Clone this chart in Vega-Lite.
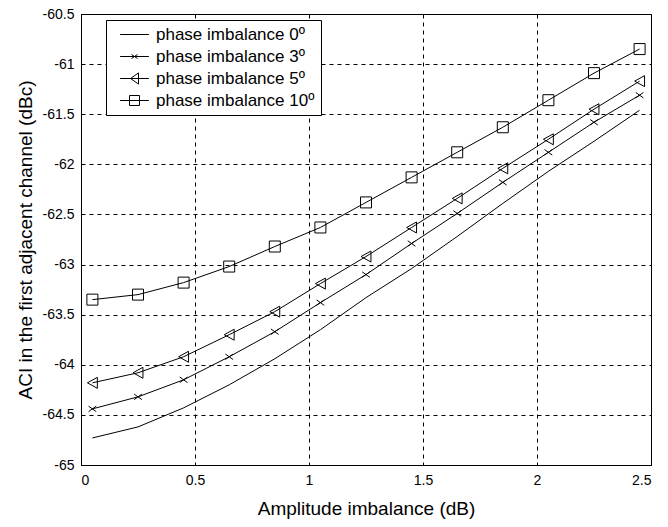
{
  "$schema": "https://vega.github.io/schema/vega-lite/v6.json",
  "width": 570,
  "height": 451,
  "autosize": {"type": "none"},
  "padding": {"left": 81, "top": 14, "right": 17, "bottom": 62},
  "background": "white",
  "config": {
    "font": "Liberation Sans",
    "view": {"stroke": "black", "strokeWidth": 1},
    "axis": {
      "domainColor": "black",
      "gridColor": "black",
      "gridDash": [4, 4],
      "gridOpacity": 1,
      "gridWidth": 1,
      "labelColor": "black",
      "labelFont": "Liberation Sans",
      "labelFontSize": 14,
      "titleFont": "Liberation Sans",
      "titleFontSize": 19,
      "titleFontWeight": "normal",
      "titleColor": "black",
      "tickColor": "black",
      "ticks": false,
      "labelPadding": 7
    },
    "legend": {
      "labelFont": "Liberation Sans",
      "labelFontSize": 17,
      "labelColor": "black"
    }
  },
  "data": {
    "values": [
      {"x": 0.05, "y": -64.73, "s": "phase imbalance 0º"},
      {"x": 0.25, "y": -64.62, "s": "phase imbalance 0º"},
      {"x": 0.45, "y": -64.43, "s": "phase imbalance 0º"},
      {"x": 0.65, "y": -64.2, "s": "phase imbalance 0º"},
      {"x": 0.85, "y": -63.94, "s": "phase imbalance 0º"},
      {"x": 1.05, "y": -63.65, "s": "phase imbalance 0º"},
      {"x": 1.25, "y": -63.33, "s": "phase imbalance 0º"},
      {"x": 1.45, "y": -63.04, "s": "phase imbalance 0º"},
      {"x": 1.65, "y": -62.72, "s": "phase imbalance 0º"},
      {"x": 1.85, "y": -62.39, "s": "phase imbalance 0º"},
      {"x": 2.05, "y": -62.07, "s": "phase imbalance 0º"},
      {"x": 2.25, "y": -61.77, "s": "phase imbalance 0º"},
      {"x": 2.45, "y": -61.46, "s": "phase imbalance 0º"},
      {"x": 0.05, "y": -64.44, "s": "phase imbalance 3º"},
      {"x": 0.25, "y": -64.32, "s": "phase imbalance 3º"},
      {"x": 0.45, "y": -64.15, "s": "phase imbalance 3º"},
      {"x": 0.65, "y": -63.92, "s": "phase imbalance 3º"},
      {"x": 0.85, "y": -63.67, "s": "phase imbalance 3º"},
      {"x": 1.05, "y": -63.38, "s": "phase imbalance 3º"},
      {"x": 1.25, "y": -63.1, "s": "phase imbalance 3º"},
      {"x": 1.45, "y": -62.79, "s": "phase imbalance 3º"},
      {"x": 1.65, "y": -62.49, "s": "phase imbalance 3º"},
      {"x": 1.85, "y": -62.18, "s": "phase imbalance 3º"},
      {"x": 2.05, "y": -61.88, "s": "phase imbalance 3º"},
      {"x": 2.25, "y": -61.58, "s": "phase imbalance 3º"},
      {"x": 2.45, "y": -61.31, "s": "phase imbalance 3º"},
      {"x": 0.05, "y": -64.18, "s": "phase imbalance 5º"},
      {"x": 0.25, "y": -64.08, "s": "phase imbalance 5º"},
      {"x": 0.45, "y": -63.92, "s": "phase imbalance 5º"},
      {"x": 0.65, "y": -63.7, "s": "phase imbalance 5º"},
      {"x": 0.85, "y": -63.47, "s": "phase imbalance 5º"},
      {"x": 1.05, "y": -63.19, "s": "phase imbalance 5º"},
      {"x": 1.25, "y": -62.92, "s": "phase imbalance 5º"},
      {"x": 1.45, "y": -62.63, "s": "phase imbalance 5º"},
      {"x": 1.65, "y": -62.34, "s": "phase imbalance 5º"},
      {"x": 1.85, "y": -62.04, "s": "phase imbalance 5º"},
      {"x": 2.05, "y": -61.75, "s": "phase imbalance 5º"},
      {"x": 2.25, "y": -61.45, "s": "phase imbalance 5º"},
      {"x": 2.45, "y": -61.17, "s": "phase imbalance 5º"},
      {"x": 0.05, "y": -63.35, "s": "phase imbalance 10º"},
      {"x": 0.25, "y": -63.3, "s": "phase imbalance 10º"},
      {"x": 0.45, "y": -63.18, "s": "phase imbalance 10º"},
      {"x": 0.65, "y": -63.02, "s": "phase imbalance 10º"},
      {"x": 0.85, "y": -62.82, "s": "phase imbalance 10º"},
      {"x": 1.05, "y": -62.63, "s": "phase imbalance 10º"},
      {"x": 1.25, "y": -62.38, "s": "phase imbalance 10º"},
      {"x": 1.45, "y": -62.13, "s": "phase imbalance 10º"},
      {"x": 1.65, "y": -61.88, "s": "phase imbalance 10º"},
      {"x": 1.85, "y": -61.63, "s": "phase imbalance 10º"},
      {"x": 2.05, "y": -61.36, "s": "phase imbalance 10º"},
      {"x": 2.25, "y": -61.09, "s": "phase imbalance 10º"},
      {"x": 2.45, "y": -60.85, "s": "phase imbalance 10º"}
    ]
  },
  "encoding": {
    "x": {
      "field": "x",
      "type": "quantitative",
      "scale": {"domain": [0, 2.5], "nice": false, "zero": false},
      "axis": {
        "values": [0, 0.5, 1, 1.5, 2, 2.5],
        "labelExpr": "'' + datum.value",
        "title": "Amplitude imbalance (dB)",
        "titlePadding": 12,
        "labelPadding": 8
      }
    },
    "y": {
      "field": "y",
      "type": "quantitative",
      "scale": {"domain": [-65, -60.5], "nice": false, "zero": false},
      "axis": {
        "values": [-65, -64.5, -64, -63.5, -63, -62.5, -62, -61.5, -61, -60.5],
        "labelExpr": "'' + datum.value",
        "title": "ACI in the first adjacent channel (dBc)",
        "titlePadding": 7,
        "labelPadding": 7
      }
    }
  },
  "layer": [
    {
      "mark": {"type": "line", "stroke": "black", "strokeWidth": 1},
      "encoding": {"detail": {"field": "s"}}
    },
    {
      "mark": {"type": "point", "filled": false, "stroke": "black", "strokeWidth": 1, "opacity": 1, "size": 121},
      "encoding": {
        "shape": {
          "field": "s",
          "type": "nominal",
          "scale": {
            "domain": ["phase imbalance 0º", "phase imbalance 3º", "phase imbalance 5º", "phase imbalance 10º"],
            "range": ["M0,0", "M-0.7,-0.5L0.7,0.5M-0.7,0.5L0.7,-0.5", "M-0.9,0L0.9,-1L0.9,1Z", "square"]
          },
          "legend": null
        }
      }
    },
    {
      "mark": {"type": "point", "filled": false, "stroke": "black", "strokeWidth": 1, "opacity": 0, "size": 64},
      "encoding": {
        "shape": {
          "field": "s",
          "type": "nominal",
          "scale": {
            "domain": ["phase imbalance 0º", "phase imbalance 3º", "phase imbalance 5º", "phase imbalance 10º"],
            "range": [
              "M-3.6,0H3.6",
              "M-3.6,0H3.6M-0.75,-0.5L0.75,0.5M-0.75,0.5L0.75,-0.5",
              "M-3.6,0H3.6M-1,0L1,-1.4L1,1.4Z",
              "M-3.6,0H3.6M-1.25,-1.25H1.25V1.25H-1.25Z"
            ]
          },
          "legend": {
            "title": null,
            "orient": "none",
            "legendX": 25,
            "legendY": 6,
            "fillColor": "white",
            "strokeColor": "black",
            "padding": 6,
            "rowPadding": 4,
            "symbolSize": 64,
            "symbolOpacity": 1,
            "symbolStrokeColor": "black",
            "symbolStrokeWidth": 1,
            "symbolFillColor": "transparent",
            "symbolOffset": 14,
            "labelOffset": 13
          }
        }
      }
    }
  ],
  "resolve": {"scale": {"shape": "independent"}, "legend": {"shape": "independent"}}
}
